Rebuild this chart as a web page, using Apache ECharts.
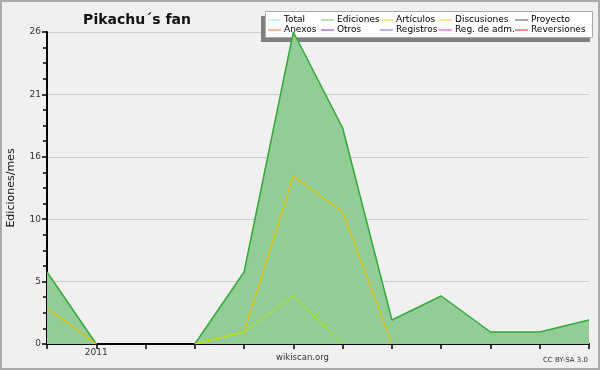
<!DOCTYPE html>
<html><head><meta charset="utf-8">
<script src="https://cdn.jsdelivr.net/npm/echarts@6/dist/echarts.min.js"></script>
<style>html,body{margin:0;padding:0;background:#f0f0f0}#c{width:600px;height:370px}</style>
</head><body><div id="c"></div>
<script>
const categories = ['2010-12','2011-01','2011-02','2011-03','2011-04','2011-05','2011-06','2011-07','2011-08','2011-09','2011-10','2011-11'];
const totalValues      = [6, 0, null, 0, 6, 26, 18, 2, 4, 1, 1, 2];
const edicionesValues  = [6, 0, null, 0, 6, 26, 18, 2, 4, 1, 1, 2];
const articulosValues  = [null, null, null, 0, 1, 4, 0, null, null, null, null, null];
const discusionesValues= [3, 0, null, 0, 1, 14, 11, 0, null, null, null, null];
const yTicks = [0, 5, 10, 16, 21, 26];
const legendCols = [['Total','Anexos'],['Ediciones','Otros'],['Artículos','Registros'],['Discusiones','Reg. de adm.'],['Proyecto','Reversiones']];
const colors = {'Total':'#98e0dc','Ediciones':'#70c470','Artículos':'#c0f030','Discusiones':'#f4c830','Proyecto':'#505050','Anexos':'#f07030','Otros':'#7030e0','Registros':'#6c6cf0','Reg. de adm.':'#e030e0','Reversiones':'#e02020'};

const chart = echarts.init(document.getElementById('c'));
const F = 'DejaVu Sans';
const colLeft = [268, 321, 380, 439, 515];
const legends = legendCols.map((names, i) => ({
  orient: 'vertical', left: colLeft[i], top: 15, itemGap: 0,
  itemWidth: 13, itemHeight: 1, icon: 'rect',
  textStyle: {fontFamily: F, fontSize: 9, color: '#000', lineHeight: 10, padding: [0,0,0,-2]},
  padding: 0, selectedMode: false,
  data: names.map(n => ({name: n, itemStyle: {color: colors[n]}}))
}));
function lineSeries(name, data, z) {
  return {name, type: 'line', data, showSymbol: false, symbol: 'none', connectNulls: false, z: z,
    itemStyle: {color: colors[name]}, lineStyle: {color: colors[name], width: 1}};
}
const series = [
  lineSeries('Total', totalValues, 2),
  {name: 'Ediciones', type: 'line', data: edicionesValues, showSymbol: false, symbol: 'none', z: 3,
   itemStyle: {color: colors['Ediciones']}, lineStyle: {color: '#36aa36', width: 1.5},
   areaStyle: {color: '#92cc96', opacity: 1}},
  lineSeries('Artículos', articulosValues, 5),
  {...lineSeries('Discusiones', discusionesValues, 4), lineStyle: {color: '#e8c000', width: 1.2}},
  lineSeries('Proyecto', [], 2), lineSeries('Anexos', [], 2), lineSeries('Otros', [], 2),
  lineSeries('Registros', [], 2), lineSeries('Reg. de adm.', [], 2), lineSeries('Reversiones', [], 2)
];
series[2].lineStyle.color = '#b8ec00';

chart.setOption({
  backgroundColor: '#f0f0f0',
  animation: false,
  title: {text: 'Pikachu´s fan', left: 132, top: 8, textAlign: 'center',
    textStyle: {fontFamily: F, fontSize: 14, fontWeight: 'bold', color: '#111'}},
  legend: legends,
  grid: {left: 47, right: 11, top: 32, bottom: 26, outerBoundsMode: 'none', containLabel: false},
  xAxis: {type: 'category', data: categories, boundaryGap: false,
    axisLine: {lineStyle: {color: '#000', width: 2}},
    axisTick: {show: true, interval: 0, length: 5, lineStyle: {color: '#000', width: 1.5}},
    axisLabel: {interval: 0, margin: 4, fontFamily: F, fontSize: 9, color: '#333',
      formatter: v => v.endsWith('-01') ? v.slice(0, 4) : ''},
    splitLine: {show: false}},
  yAxis: {type: 'value', min: 0, max: 26, interval: 5.2,
    name: 'Ediciones/mes', nameLocation: 'middle', nameGap: 30, nameRotate: 90,
    nameTextStyle: {fontFamily: F, fontSize: 11, color: '#111'},
    axisLine: {show: true, lineStyle: {color: '#000', width: 2}},
    axisTick: {show: true, length: 5, lineStyle: {color: '#000', width: 1.5}},
    minorTick: {show: true, splitNumber: 4, length: 4, lineStyle: {color: '#000', width: 1.5}},
    axisLabel: {margin: 6, fontFamily: F, fontSize: 9, color: '#333',
      formatter: v => String(yTicks.reduce((a, b) => Math.abs(b - v) < Math.abs(a - v) ? b : a))},
    splitLine: {show: true, lineStyle: {color: '#cccccc', width: 1}}},
  graphic: [
    {type: 'rect', shape: {x: 1, y: 1, width: 598, height: 368}, style: {fill: 'none', stroke: '#aaaaaa', lineWidth: 2}, z: 1, silent: true},
    {type: 'rect', shape: {x: 261, y: 16, width: 329, height: 26}, style: {fill: '#808080'}, z: 3, silent: true},
    {type: 'rect', shape: {x: 265.5, y: 11.5, width: 327, height: 26}, style: {fill: '#ffffff', stroke: '#aaaaaa', lineWidth: 1}, z: 3, silent: true},
    {type: 'text', left: 276, top: 353, style: {text: 'wikiscan.org', font: '8.5px "DejaVu Sans"', fill: '#333'}, silent: true},
    {type: 'text', right: 12, top: 357, style: {text: 'CC BY-SA 3.0', font: '7px "DejaVu Sans"', fill: '#333'}, silent: true}
  ],
  series
});
</script></body></html>
